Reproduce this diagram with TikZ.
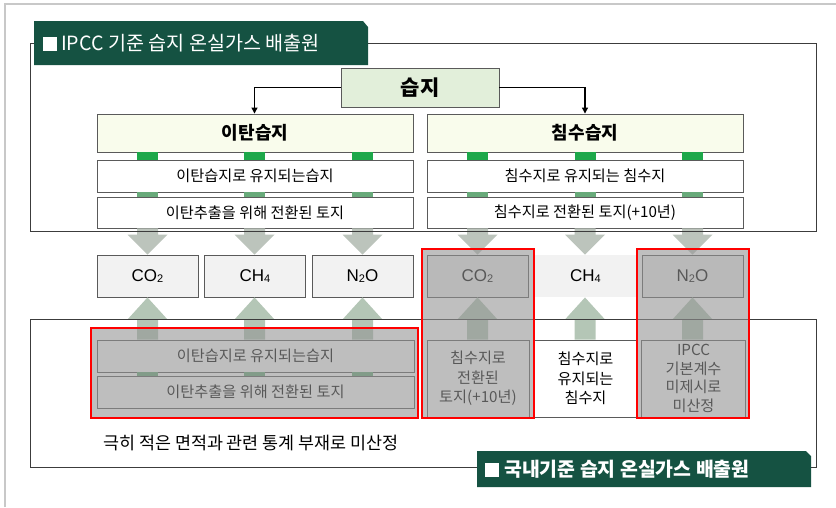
\documentclass[tikz,border=0pt]{standalone}
\usepackage{fontspec}
\setmainfont{Noto Sans CJK KR}
\newfontfamily\gasfont{Liberation Sans}
\usetikzlibrary{arrows.meta,calc}
\definecolor{tabgreen}{RGB}{21,82,66}
\definecolor{boxline}{RGB}{90,90,90}
\definecolor{frameline}{RGB}{60,60,60}
\definecolor{outerline}{RGB}{200,200,200}
\definecolor{wetfill}{RGB}{226,239,218}
\definecolor{catfill}{RGB}{249,252,236}
\definecolor{gasfill}{RGB}{242,242,242}
\definecolor{arrowc}{RGB}{188,196,188}
\definecolor{arrowup}{RGB}{180,198,182}
\definecolor{gtop}{RGB}{30,168,74}
\definecolor{glow}{RGB}{104,170,122}
\definecolor{dimc}{RGB}{148,148,148}
\newcommand\blkdown[3]{%
  \fill[arrowc] let \p1=(#1.south -| #3), \p2=(#2.north -| #3) in
    (\x1-10.5pt,\y1) -- (\x1+10.5pt,\y1) -- (\x1+10.5pt,\y2+20pt) -- (\x1+20pt,\y2+20pt)
    -- (\x1,\y2) -- (\x1-20pt,\y2+20pt) -- (\x1-10.5pt,\y2+20pt) -- cycle;}
\newcommand\blkup[3]{%
  \fill[arrowup] let \p1=(#1.north -| #3), \p2=(#2.south -| #3) in
    (\x1-10.5pt,\y1) -- (\x1-10.5pt,\y2-22pt) -- (\x1-20pt,\y2-22pt) -- (\x1,\y2)
    -- (\x1+20pt,\y2-22pt) -- (\x1+10.5pt,\y2-22pt) -- (\x1+10.5pt,\y1) -- cycle;}
\newcommand\gconn[4]{%
  \fill[#4] let \p1=(#1.south -| #3), \p2=(#2.north -| #3) in
    (\x1-10.5pt,\y1) rectangle (\x1+10.5pt,\y2);}
\newcommand\sbs[1]{\raisebox{-0.5pt}{\fontsize{11}{11}\selectfont #1}}
\begin{document}
\begin{tikzpicture}[x=1pt,y=-1pt,
  box/.style={draw=boxline, line width=0.9pt, fill=white, inner sep=0pt, align=center,
    font=\fontsize{15.2}{19.5}\selectfont},
  catbox/.style={box, fill=catfill, font=\fontsize{18}{20}\selectfont\bfseries},
  gasbox/.style={box, fill=gasfill, minimum width=101pt, minimum height=42pt,
    font=\gasfont\fontsize{17}{20}\selectfont},
  frame/.style={draw=frameline, line width=0.9pt},
  dim/.style={fill=dimc, fill opacity=0.6},
  hl/.style={draw=red, line width=2pt},
  tabtext/.style={text=white, inner sep=0pt, anchor=west},
  link/.style={draw=black, line width=1.1pt, -{Triangle[length=6pt,width=6pt]}}
]
\useasboundingbox (0,0) rectangle (836,507);
% outer light frame
\draw[outerline, line width=1.5pt] (5,507) -- (5,4) -- (836,4);

% column coordinates
\coordinate (c1) at (147.5,0);
\coordinate (c2) at (254.5,0);
\coordinate (c3) at (362.5,0);
\coordinate (c4) at (477.5,0);
\coordinate (c5) at (585,0);
\coordinate (c6) at (692.5,0);

% top section nodes
\node[box, fill=wetfill, minimum width=158pt, minimum height=39pt,
  font=\fontsize{21}{24}\selectfont\bfseries] (wet) at (420,87.5) {습지};
\node[catbox, minimum width=316pt, minimum height=38pt] (peat) at (255,133) {이탄습지};
\node[catbox, minimum width=316pt, minimum height=38pt] (flood) at (585,133) {침수습지};
\node[box, minimum width=316pt, minimum height=32pt] (peat2) at (255,176) {이탄습지로 유지되는습지};
\node[box, minimum width=316pt, minimum height=31pt] (peat3) at (255,212.5) {이탄추출을 위해 전환된 토지};
\node[box, minimum width=316pt, minimum height=32pt] (flood2) at (585,176) {침수지로 유지되는 침수지};
\node[box, minimum width=316pt, minimum height=31pt] (flood3) at (585,212.5) {침수지로 전환된 토지(+10년)};

\draw[link] (wet.west) -| (peat.north -| c2);
\draw[link] (wet.east) -| (flood.north -| c5);

\foreach \c in {c1,c2,c3}{\gconn{peat}{peat2}{\c}{gtop}\gconn{peat2}{peat3}{\c}{glow}}
\foreach \c in {c4,c5,c6}{\gconn{flood}{flood2}{\c}{gtop}\gconn{flood2}{flood3}{\c}{glow}}

% gas nodes
\node[gasbox] (gA) at (147.5,276) {CO\sbs{2}};
\node[gasbox] (gB) at (255,276) {CH\sbs{4}};
\node[gasbox] (gC) at (362.5,276) {N\sbs{2}O};
\node[gasbox] (gD) at (477.5,276) {CO\sbs{2}};
\node[gasbox, draw=none, minimum width=103pt] (gE) at (585.5,276) {CH\sbs{4}};
\node[gasbox] (gF) at (692.5,276) {N\sbs{2}O};

\blkdown{peat3}{gA}{c1}
\blkdown{peat3}{gB}{c2}
\blkdown{peat3}{gC}{c3}
\blkdown{flood3}{gD}{c4}
\blkdown{flood3}{gE}{c5}
\blkdown{flood3}{gF}{c6}

% bottom section nodes
\node[box, minimum width=317pt, minimum height=32pt] (lb1) at (255.5,356) {이탄습지로 유지되는습지};
\node[box, minimum width=317pt, minimum height=32pt] (lb2) at (255.5,392) {이탄추출을 위해 전환된 토지};
\node[box, minimum width=102pt, minimum height=77pt] (fb1) at (478,378.5) {침수지로\\전환된\\토지(+10년)};
\node[box, minimum width=103pt, minimum height=77pt] (fb2) at (585.5,378.5) {침수지로\\유지되는\\침수지};
\node[box, minimum width=104pt, minimum height=77pt, font=\fontsize{15.2}{18.7}\selectfont] (fb3) at (693.5,378.5) {IPCC\\기본계수\\미제시로\\미산정};

\blkup{lb1}{gA}{c1}
\blkup{lb1}{gB}{c2}
\blkup{lb1}{gC}{c3}
\blkup{fb1}{gD}{c4}
\blkup{fb2}{gE}{c5}
\blkup{fb3}{gF}{c6}
\foreach \c in {c1,c2,c3}{\gconn{lb1}{lb2}{\c}{glow}}

\node[anchor=west, inner sep=0pt, font=\fontsize{17.4}{20}\selectfont] (note) at (103,443) {극히 적은 면적과 관련 통계 부재로 미산정};

% section frames
\draw[frame] (30,43) rectangle (816,231);
\draw[frame] (30,319) rectangle (816,467);

% highlights
\fill[dim] (91,328) rectangle (418,418);
\fill[dim] (422,249) rectangle (534,418);
\fill[dim] (637,249) rectangle (749,418);
\draw[hl] (91,328) rectangle (418,418);
\draw[hl] (422,249) rectangle (534,418);
\draw[hl] (637,249) rectangle (749,418);

% title tabs
\fill[tabgreen] (34,21) -- (363,21) -- (368,27) -- (368,65) -- (34,65) -- cycle;
\node[tabtext, font=\fontsize{19.6}{22}\selectfont] (t1) at (43,43.5) {\rule{14pt}{14pt}\hspace{4pt}IPCC 기준 습지 온실가스 배출원};
\fill[tabgreen] (477,451) -- (806,451) -- (811,456) -- (811,487) -- (477,487) -- cycle;
\node[tabtext, font=\fontsize{19.4}{22}\selectfont\bfseries] (t2) at (485,469.5) {\rule{14pt}{14pt}\hspace{5pt}국내기준 습지 온실가스 배출원};
\end{tikzpicture}
\end{document}
